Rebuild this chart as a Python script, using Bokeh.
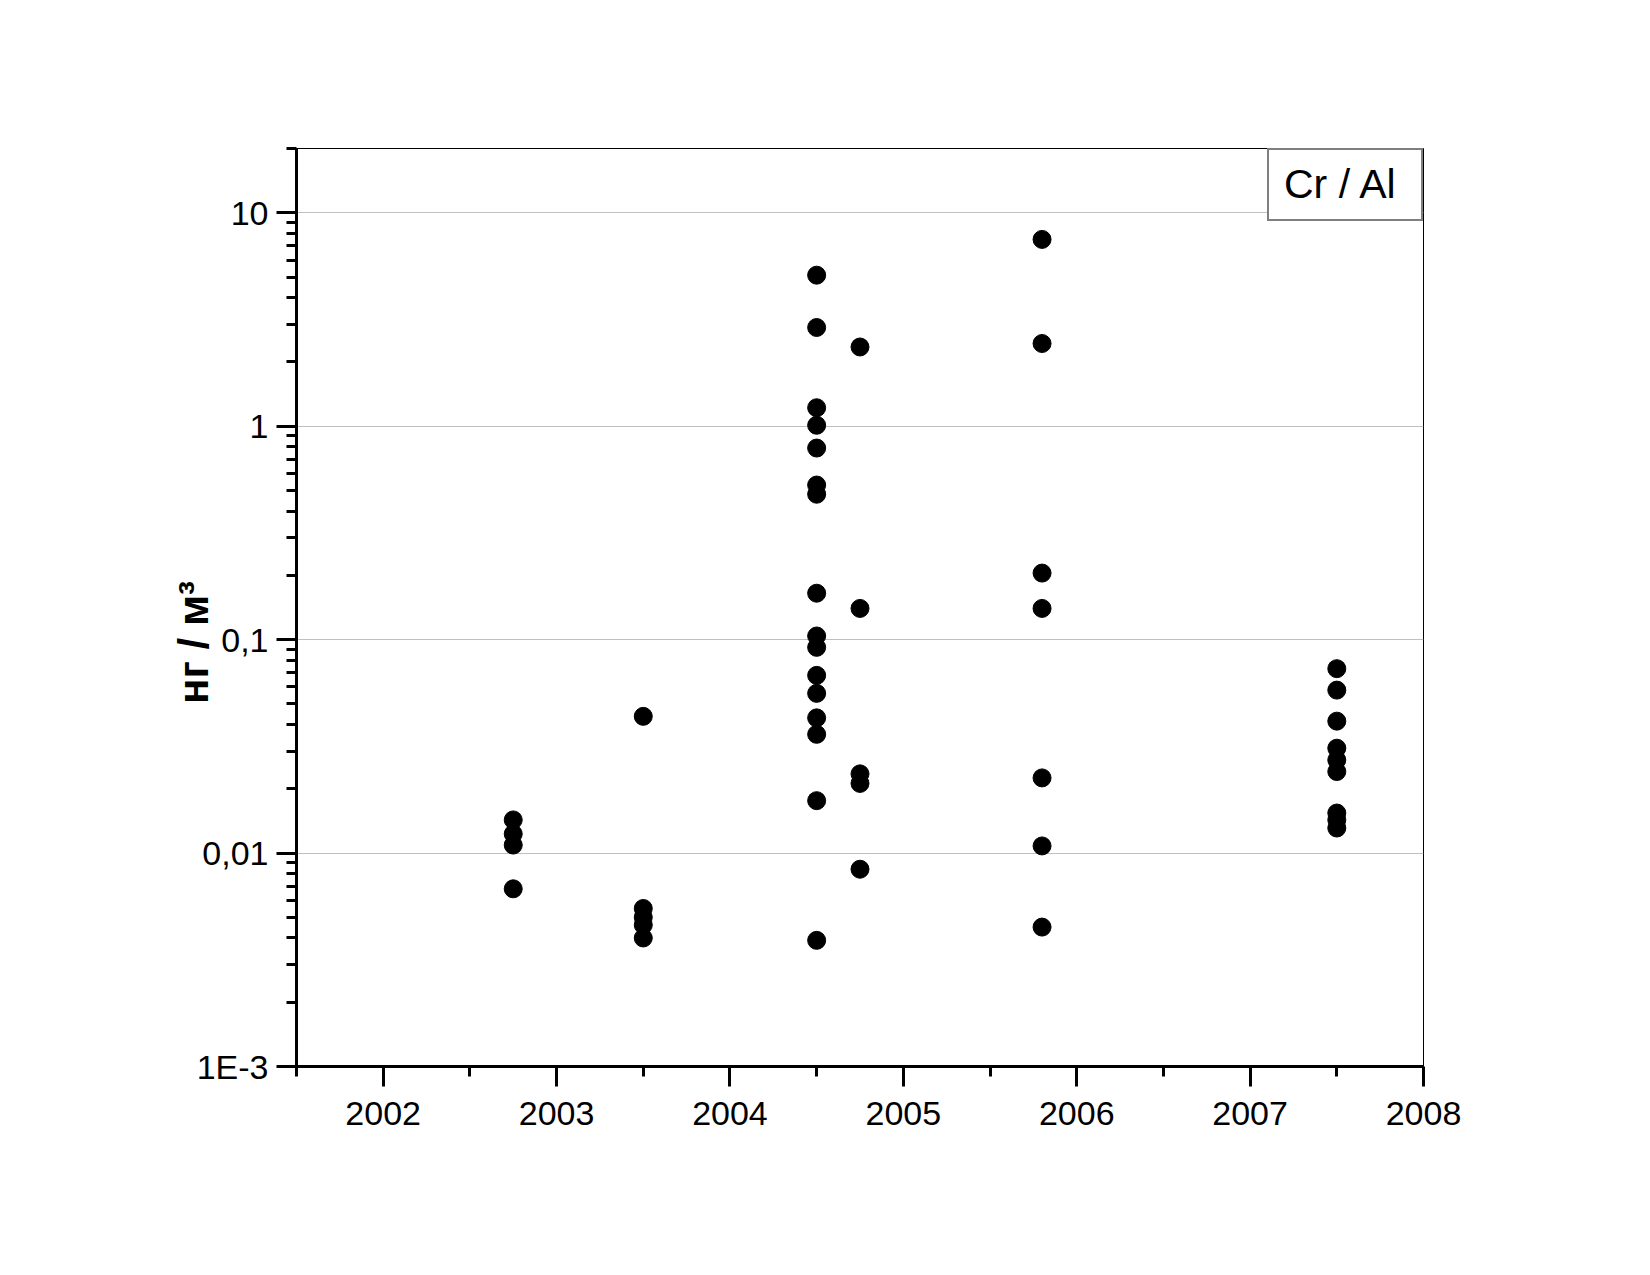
from bokeh.plotting import figure
from bokeh.models import FixedTicker, Legend, LegendItem
from bokeh.embed import file_html
from bokeh.resources import INLINE

# sampling dates (decimal years) and measured concentrations, ng/m3
dates = [2002.75, 2003.5, 2004.5, 2004.75, 2005.8, 2007.5]
vals_2002_75 = [0.0143, 0.0123, 0.0109, 0.0068]
vals_2003_5 = [0.0437, 0.0055, 0.0050, 0.0046, 0.0040]
vals_2004_5 = [5.1, 2.9, 1.22, 1.01, 0.79, 0.53, 0.48, 0.165, 0.104, 0.092,
               0.068, 0.056, 0.043, 0.036, 0.0176, 0.0039]
vals_2004_75 = [2.35, 0.140, 0.0235, 0.0212, 0.0084]
vals_2005_8 = [7.5, 2.44, 0.205, 0.140, 0.0225, 0.0108, 0.0045]
vals_2007_5 = [0.0731, 0.058, 0.0415, 0.031, 0.0273, 0.0241, 0.0154, 0.0143, 0.0131]

groups = [vals_2002_75, vals_2003_5, vals_2004_5, vals_2004_75, vals_2005_8, vals_2007_5]

year_ticks = [2002, 2003, 2004, 2005, 2006, 2007, 2008]
y_ticks = [1e-3, 1e-2, 1e-1, 1, 10]
y_tick_labels = ["1E-3", "0,01", "0,1", "1", "10"]

x = []
y = []
for d, g in zip(dates, groups):
    x += [d] * len(g)
    y += g

FONT = "Liberation Sans"

p = figure(width=1600, height=1240, y_axis_type="log",
           x_range=(2001.5, 2008), y_range=(1e-3, 20),
           output_backend="svg", toolbar_location=None,
           min_border_left=296, min_border_top=148,
           min_border_right=177, min_border_bottom=174,
           background_fill_color="white", border_fill_color="white")

p.outline_line_color = "black"
p.outline_line_width = 1

p.scatter(x, y, size=18, fill_color="black", line_color="black")

# x axis
p.xaxis.ticker = FixedTicker(ticks=year_ticks,
                             minor_ticks=[t - 0.5 for t in year_ticks])
p.xaxis.axis_line_width = 3
p.xaxis.major_tick_line_width = 3
p.xaxis.minor_tick_line_width = 3
p.xaxis.major_tick_out = 20
p.xaxis.major_tick_in = 0
p.xaxis.minor_tick_out = 10
p.xaxis.minor_tick_in = 0
p.xaxis.major_label_text_font = FONT
p.xaxis.major_label_text_font_size = "34px"
p.xaxis.major_label_text_color = "black"
p.xaxis.major_label_standoff = 15

# y axis
minor = []
for e in range(-3, 2):
    for k in range(2, 10):
        v = k * 10.0 ** e
        if v <= 20:
            minor.append(v)
p.yaxis.ticker = FixedTicker(ticks=y_ticks, minor_ticks=minor)
p.yaxis.major_label_overrides = dict(zip(y_ticks, y_tick_labels))
p.yaxis.axis_line_width = 3
p.yaxis.major_tick_line_width = 3
p.yaxis.minor_tick_line_width = 3
p.yaxis.major_tick_out = 20
p.yaxis.major_tick_in = 0
p.yaxis.minor_tick_out = 10
p.yaxis.minor_tick_in = 0
p.yaxis.major_label_text_font = FONT
p.yaxis.major_label_text_font_size = "34px"
p.yaxis.major_label_text_color = "black"
p.yaxis.major_label_standoff = 8

# title sits a bit below the middle in the original -> pad with nbsp
p.yaxis.axis_label = "нг / м³" + "\u00a0" * 6
p.yaxis.axis_label_text_font = FONT
p.yaxis.axis_label_text_font_size = "42px"
p.yaxis.axis_label_text_font_style = "bold"
p.yaxis.axis_label_text_color = "black"
p.yaxis.axis_label_standoff = -23

p.xgrid.grid_line_color = None
p.ygrid.grid_line_color = "#c0c0c0"
p.ygrid.grid_line_width = 1

# boxed series name in the top right corner (text only, no marker)
dummy = p.scatter([], [], alpha=0)
leg = Legend(items=[LegendItem(label="Cr / Al", renderers=[dummy])],
             location="top_right", margin=0, padding=11,
             glyph_width=0, glyph_height=40, label_standoff=4,
             label_width=126, label_height=40,
             label_text_font=FONT, label_text_font_size="41px",
             label_text_color="black",
             border_line_color="black", border_line_width=2,
             background_fill_color="white", background_fill_alpha=1)
p.add_layout(leg)

open("out.html", "w").write(file_html(p, INLINE))
